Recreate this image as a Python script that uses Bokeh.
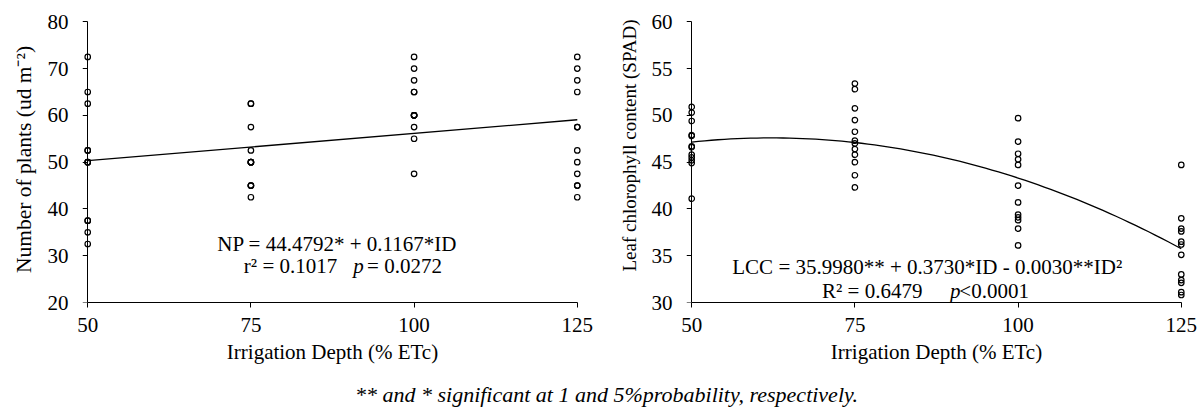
import math
from bokeh.plotting import figure
from bokeh.models import Range1d, FixedTicker, Label, LinearAxis
from bokeh.layouts import column, row
from bokeh.embed import file_html
from bokeh.resources import INLINE

# ---------------- data ----------------
id_levels = [50, 75, 100, 125]
x_ticks = [50, 75, 100, 125]

np_50 = [72.5, 65, 62.5, 52.5, 52.5, 50, 50, 50, 37.5, 37.5, 35, 32.5]
np_75 = [62.5, 62.5, 57.5, 52.5, 50, 50, 50, 50, 45, 45, 45, 42.5]
np_100 = [72.5, 70, 67.5, 65, 65, 60, 60, 60, 60, 57.5, 55, 47.5]
np_125 = [72.5, 70, 67.5, 65, 57.5, 57.5, 52.5, 50, 47.5, 45, 45, 42.5]
np_yticks = [20, 30, 40, 50, 60, 70, 80]

lcc_50 = [50.9, 50.3, 49.4, 47.9, 47.8, 46.7, 46.6, 45.8, 45.5, 45.2, 44.9, 41.1]
lcc_75 = [53.4, 52.8, 50.75, 49.5, 48.25, 47.3, 47.0, 46.4, 45.8, 45.0, 43.6, 42.3]
lcc_100 = [49.7, 47.2, 45.9, 45.3, 44.7, 42.5, 40.7, 39.4, 39.1, 38.8, 37.9, 36.1]
lcc_125 = [44.7, 39.0, 37.9, 37.6, 36.5, 36.2, 35.1, 33.0, 32.4, 32.1, 31.1, 30.8]
lcc_yticks = [30, 35, 40, 45, 50, 55, 60]

# regression coefficients printed on the chart
np_coef = [44.4792, 0.1167]            # NP = a + b*ID
lcc_coef = [35.9980, 0.3730, -0.0030]  # LCC = a + b*ID + c*ID^2

np_eq = "NP = 44.4792* + 0.1167*ID"
np_r2 = "r² = 0.1017"
np_p = "= 0.0272"
lcc_eq = "LCC = 35.9980** + 0.3730*ID - 0.0030**ID²"
lcc_r2 = "R² = 0.6479"
lcc_p = "<0.0001"
x_title = "Irrigation Depth (% ETc)"
np_title = "Number of plants (ud m⁻²)"
lcc_title = "Leaf chlorophyll content (SPAD)"
caption = "** and * significant at 1 and 5%probability, respectively."

FONT = "Liberation Serif"
FS = "21px"
H = 372          # height of the two panels
FB = 302         # pixel row of the x axis
TOP = 21.3       # pixel row of the top y tick
PAD = 0.8        # small x padding so edge markers are not clipped


def xs_of(groups):
    out = []
    for lvl, g in zip(id_levels, groups):
        out += [lvl] * len(g)
    return out


def ys_of(groups):
    out = []
    for g in groups:
        out += g
    return out


def y_top(lo, hi):
    # extend the range above the top tick so the frame starts at the canvas top
    return hi + TOP * (hi - lo) / (FB - TOP)


def style(p, yticks):
    p.outline_line_color = None
    p.xgrid.visible = False
    p.ygrid.visible = False
    p.background_fill_color = "white"
    p.border_fill_color = "white"
    xa = p.xaxis[0]
    ya = p.yaxis[0]
    for ax in (xa, ya):
        ax.minor_tick_line_color = None
        ax.major_label_text_font = FONT
        ax.major_label_text_font_size = FS
        ax.major_label_text_color = "black"
    # x axis
    xa.ticker = FixedTicker(ticks=x_ticks)
    xa.bounds = (x_ticks[0], x_ticks[-1])
    xa.axis_line_color = "black"
    xa.major_tick_line_color = "black"
    xa.major_tick_out = 5
    xa.major_tick_in = 0
    xa.major_label_standoff = 10
    xa.axis_label = x_title
    xa.axis_label_text_font = FONT
    xa.axis_label_text_font_size = FS
    xa.axis_label_text_font_style = "normal"
    xa.axis_label_text_color = "black"
    xa.axis_label_standoff = 5
    # y axis: labels only (line/ticks drawn by the axis placed at ID = 50)
    ya.ticker = FixedTicker(ticks=yticks)
    ya.axis_line_color = None
    ya.major_tick_line_color = None
    ya.major_tick_out = 0
    ya.major_tick_in = 0
    ya.major_label_standoff = 14
    ya2 = LinearAxis(ticker=FixedTicker(ticks=yticks), fixed_location=x_ticks[0],
                     bounds=(yticks[0], yticks[-1]),
                     axis_line_color="black", major_tick_line_color="black",
                     major_tick_out=5, major_tick_in=0, minor_tick_line_color=None,
                     major_label_text_color=None, major_label_text_font_size="1px")
    p.add_layout(ya2, "left")


def lab(p, x, y, text, align="left", italic=False):
    p.add_layout(Label(x=x, y=y, text=text, text_font=FONT, text_font_size=FS,
                       text_color="black", text_align=align, text_baseline="alphabetic",
                       text_font_style="italic" if italic else "normal"))


def title_fig(w, cx, cy, text, size):
    t = figure(width=w, height=H, x_range=Range1d(0, w), y_range=Range1d(H - FB, H),
               output_backend="svg", toolbar_location=None,
               x_axis_type=None, y_axis_type=None,
               min_border_left=0, min_border_right=0, min_border_top=0,
               min_border_bottom=H - FB)
    t.outline_line_color = None
    t.xgrid.visible = False
    t.ygrid.visible = False
    t.add_layout(Label(x=cx, y=H - cy, text=text, text_font=FONT, text_font_size=size,
                       text_color="black", text_align="center", text_baseline="middle",
                       angle=math.pi / 2))
    return t


def panel(width, mb_left, mb_right, ylo, yhi, yticks):
    p = figure(width=width, height=H, x_range=Range1d(50 - PAD, 125 + PAD),
               y_range=Range1d(ylo, y_top(ylo, yhi)),
               output_backend="svg", toolbar_location=None,
               min_border_left=mb_left, min_border_right=mb_right,
               min_border_top=0, min_border_bottom=H - FB)
    style(p, yticks)
    return p


# ---------------- left panel ----------------
tL = title_fig(40, 23, 159, np_title, "21.5px")
p1 = panel(562, 42, 20, 20, 80, np_yticks)
p1.scatter(xs_of([np_50, np_75, np_100, np_125]), ys_of([np_50, np_75, np_100, np_125]),
           marker="circle", size=5.5, fill_color=None, line_color="black", line_width=1.2)
lx = [id_levels[0], id_levels[-1]]
p1.line(lx, [np_coef[0] + np_coef[1] * v for v in lx], line_color="black", line_width=1.3)
lab(p1, 88.22, 32.53, np_eq, align="center")
lab(p1, 73.92, 27.9, np_r2)
lab(p1, 90.67, 27.9, "p", italic=True)
lab(p1, 92.8, 27.9, np_p)

# ---------------- right panel ----------------
tR = title_fig(44, 27, 145, lcc_title, "19px")
p2 = panel(558, 40, 18, 30, 60, lcc_yticks)
p2.scatter(xs_of([lcc_50, lcc_75, lcc_100, lcc_125]), ys_of([lcc_50, lcc_75, lcc_100, lcc_125]),
           marker="circle", size=5.5, fill_color=None, line_color="black", line_width=1.2)
cx = list(range(id_levels[0], id_levels[-1] + 1))
p2.line(cx, [lcc_coef[0] + lcc_coef[1] * v + lcc_coef[2] * v * v for v in cx],
        line_color="black", line_width=1.3)
lab(p2, 86.08, 33.77, lcc_eq, align="center")
lab(p2, 69.96, 31.28, lcc_r2)
lab(p2, 89.56, 31.28, "p", italic=True)
lab(p2, 91.0, 31.28, lcc_p)

# ---------------- caption ----------------
CH = 414 - H
p3 = figure(width=1204, height=CH, x_range=Range1d(0, 1204), y_range=Range1d(0, CH),
            output_backend="svg", toolbar_location=None,
            x_axis_type=None, y_axis_type=None, min_border=0)
p3.outline_line_color = None
p3.xgrid.visible = False
p3.ygrid.visible = False
p3.add_layout(Label(x=606, y=414 - 394, text=caption, text_font=FONT,
                    text_font_size="22px", text_font_style="italic", text_color="black",
                    text_align="center", text_baseline="alphabetic"))

layout = column(row(tL, p1, tR, p2), p3)
open("out.html", "w").write(file_html(layout, INLINE))
